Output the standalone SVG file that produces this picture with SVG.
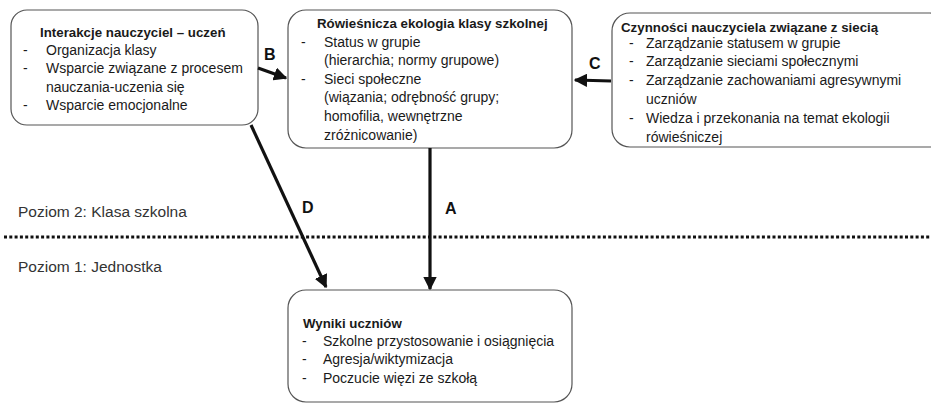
<svg xmlns="http://www.w3.org/2000/svg" width="931" height="403" viewBox="0 0 931 403">
<defs>
<style>
.box{fill:#fff;stroke:#555;stroke-width:1.2}
text{font-family:"Liberation Sans",Arial,sans-serif;font-size:14px;fill:#1a1a1a}
.t{font-weight:bold;font-size:13.3px}
.lbl{font-weight:bold;font-size:16px;fill:#111}
.lvl{font-size:15.5px;fill:#333}
.c{stroke:#111;stroke-width:3.2;fill:none}
</style>
<marker id="ah" viewBox="0 0 10 10" refX="9" refY="5" markerWidth="4.2" markerHeight="4.2" orient="auto" markerUnits="strokeWidth">
<path d="M0,0 L10,5 L0,10 z" fill="#111"/>
</marker>
</defs>
<rect width="931" height="403" fill="#fff"/>
<line x1="4" y1="237" x2="931" y2="237" stroke="#111" stroke-width="3" stroke-dasharray="3,2.3"/>
<text class="lvl" x="18" y="217">Poziom 2: Klasa szkolna</text>
<text class="lvl" x="18" y="272">Poziom 1: Jednostka</text>
<g id="n1">
<rect class="box" x="11" y="10" width="247" height="115" rx="16"/>
<text class="t" x="40" y="37">Interakcje nauczyciel – uczeń</text>
<text x="23" y="55">-</text><text x="46" y="55">Organizacja klasy</text>
<text x="23" y="73">-</text><text x="46" y="73">Wsparcie związane z procesem</text>
<text x="46" y="92">nauczania-uczenia się</text>
<text x="23" y="110">-</text><text x="46" y="110">Wsparcie emocjonalne</text>
</g>
<g id="n2">
<rect class="box" x="288" y="10" width="284" height="138" rx="18"/>
<text class="t" x="317" y="28">Rówieśnicza ekologia klasy szkolnej</text>
<text x="301" y="47">-</text><text x="324" y="47">Status w grupie</text>
<text x="324" y="65">(hierarchia; normy grupowe)</text>
<text x="301" y="84">-</text><text x="324" y="84">Sieci społeczne</text>
<text x="324" y="102">(wiązania; odrębność grupy;</text>
<text x="324" y="121">homofilia, wewnętrzne</text>
<text x="324" y="140">zróżnicowanie)</text>
</g>
<g id="n3">
<rect class="box" x="612" y="13" width="336" height="134" rx="18"/>
<text class="t" x="621" y="32">Czynności nauczyciela związane z siecią</text>
<text x="629" y="48">-</text><text x="646" y="48">Zarządzanie statusem w grupie</text>
<text x="629" y="66">-</text><text x="646" y="66">Zarządzanie sieciami społecznymi</text>
<text x="629" y="85">-</text><text x="646" y="85">Zarządzanie zachowaniami agresywnymi</text>
<text x="646" y="104">uczniów</text>
<text x="629" y="123">-</text><text x="646" y="123">Wiedza i przekonania na temat ekologii</text>
<text x="646" y="142">rówieśniczej</text>
</g>
<g id="n4">
<rect class="box" x="288" y="290" width="284" height="112" rx="18"/>
<text class="t" x="303" y="328">Wyniki uczniów</text>
<text x="302" y="346">-</text><text x="323" y="346">Szkolne przystosowanie i osiągnięcia</text>
<text x="302" y="364">-</text><text x="323" y="364">Agresja/wiktymizacja</text>
<text x="302" y="383">-</text><text x="323" y="383">Poczucie więzi ze szkołą</text>
</g>
<g id="connectors">
<line class="c" x1="258" y1="68" x2="286" y2="78" marker-end="url(#ah)"/>
<text class="lbl" x="264" y="60">B</text>
<line class="c" x1="611" y1="81" x2="575" y2="80" marker-end="url(#ah)"/>
<text class="lbl" x="589" y="69">C</text>
<line class="c" x1="251" y1="125" x2="326" y2="287" marker-end="url(#ah)"/>
<text class="lbl" x="302" y="213">D</text>
<line class="c" x1="430" y1="148" x2="430" y2="289" marker-end="url(#ah)"/>
<text class="lbl" x="445" y="214">A</text>
</g>
</svg>
